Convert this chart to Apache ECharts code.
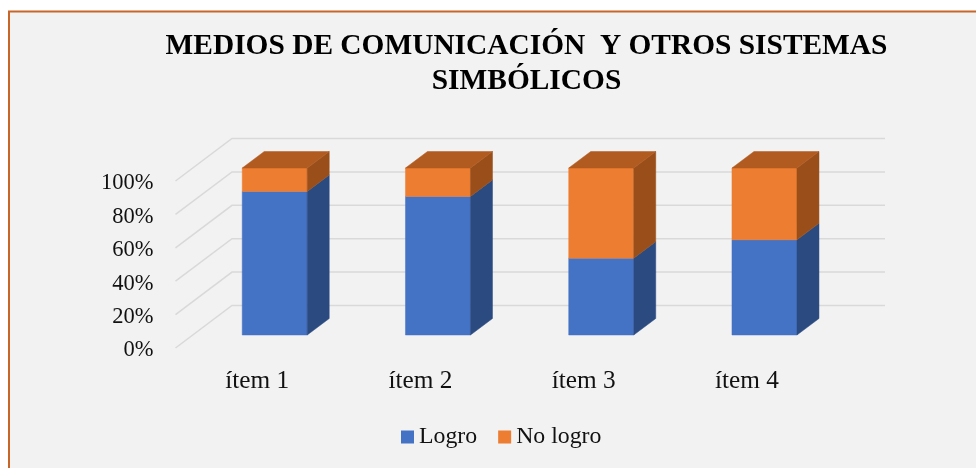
<!DOCTYPE html>
<html>
<head>
<meta charset="utf-8">
<style>html,body{margin:0;padding:0;background:#fff;overflow:hidden}#c{width:976px;height:468px}</style>
<script src="https://cdn.jsdelivr.net/npm/echarts@6/dist/echarts.min.js"></script>
</head>
<body>
<div id="c"></div>
<script>
const categories = ['ítem 1', 'ítem 2', 'ítem 3', 'ítem 4'];
const logro = [86, 83, 46, 57];
const noLogro = [14, 17, 54, 43];
const yTicks = [0, 20, 40, 60, 80, 100];
const titleText = 'MEDIOS DE COMUNICACIÓN  Y OTROS SISTEMAS\nSIMBÓLICOS';

const FONT = '"Liberation Serif","Times New Roman",serif';
const WALL = [56.5, -42.5];   // depth of the chart floor
const GAP = [17.6, -13];      // front of the floor to the front of a bar
const DEPTH = [22, -16.5];    // depth of a bar
const BAR_W = 65;

function poly(points, fill) {
  return { type: 'polygon', shape: { points }, style: { fill, stroke: fill, lineWidth: 0.5 } };
}
function barRenderer(front, side, top, base) {
  return function (params, api) {
    const i = api.value(0);
    const b = api.coord([i, base[i]]);
    const t = api.coord([i, base[i] + api.value(1)]);
    const x0 = b[0] + GAP[0] - BAR_W / 2, x1 = x0 + BAR_W;
    const yb = b[1] + GAP[1], yt = t[1] + GAP[1];
    const children = [
      poly([[x0, yb], [x1, yb], [x1, yt], [x0, yt]], front),
      poly([[x1, yb], [x1 + DEPTH[0], yb + DEPTH[1]], [x1 + DEPTH[0], yt + DEPTH[1]], [x1, yt]], side)
    ];
    if (top) children.push(poly([[x0, yt], [x1, yt], [x1 + DEPTH[0], yt + DEPTH[1]], [x0 + DEPTH[0], yt + DEPTH[1]]], top));
    return { type: 'group', children };
  };
}
function wallRenderer(params, api) {
  const p = api.coord([0, api.value(0)]);
  const cs = params.coordSys;
  return {
    type: 'polyline',
    shape: { points: [[cs.x, p[1]], [cs.x + WALL[0], p[1] + WALL[1]], [cs.x + cs.width + WALL[0], p[1] + WALL[1]]] },
    style: { fill: 'none', stroke: '#d9d9d9', lineWidth: 1.5 }
  };
}

const chart = echarts.init(document.getElementById('c'), null, { renderer: 'canvas' });
const zeros = categories.map(() => 0);
chart.setOption({
  animation: false,
  backgroundColor: '#ffffff',
  textStyle: { fontFamily: FONT },
  graphic: [{
    type: 'rect', z: -10, silent: true,
    shape: { x: 9, y: 11.5, width: 1100, height: 600 },
    style: { fill: '#f2f2f2', stroke: '#c8662a', lineWidth: 2 }
  }],
  title: {
    text: titleText, left: 526.5, top: 29, textAlign: 'center', padding: 0,
    textStyle: { fontFamily: FONT, fontSize: 29.4, fontWeight: 'bold', color: '#000', lineHeight: 35 }
  },
  legend: {
    left: 401, top: 425, padding: 0, itemWidth: 13, itemHeight: 13, itemGap: 21, icon: 'rect',
    textStyle: { fontFamily: FONT, fontSize: 23.8, color: '#111' },
    data: [
      { name: 'Logro', itemStyle: { color: '#4472c4' } },
      { name: 'No logro', itemStyle: { color: '#ed7d31' } }
    ]
  },
  grid: { left: 175.5, top: 181, width: 653, height: 167 },
  xAxis: {
    type: 'category', data: categories,
    axisLine: { show: false }, axisTick: { show: false }, splitLine: { show: false },
    axisLabel: { fontFamily: FONT, fontSize: 25.3, color: '#111', margin: 21 }
  },
  yAxis: {
    type: 'value', min: 0, max: 100, interval: 20,
    axisLine: { show: false }, axisTick: { show: false }, splitLine: { show: false },
    axisLabel: { fontFamily: FONT, fontSize: 22.5, color: '#111', margin: 22, verticalAlign: 'top', padding: [-9, 0, 0, 0], formatter: '{value}%' }
  },
  series: [
    { type: 'custom', name: 'walls', z: 1, silent: true, renderItem: wallRenderer,
      encode: { y: 0 }, data: yTicks.map(v => [v]) },
    { type: 'custom', name: 'Logro', z: 2, itemStyle: { color: '#4472c4' },
      renderItem: barRenderer('#4472c4', '#2a4a80', null, zeros),
      encode: { x: 0, y: 1 }, data: logro.map((v, i) => [i, v]) },
    { type: 'custom', name: 'No logro', z: 3, itemStyle: { color: '#ed7d31' },
      renderItem: barRenderer('#ed7d31', '#9a4f1a', '#b15b20', logro),
      encode: { x: 0, y: 1 }, data: noLogro.map((v, i) => [i, v]) }
  ]
});
</script>
</body>
</html>
